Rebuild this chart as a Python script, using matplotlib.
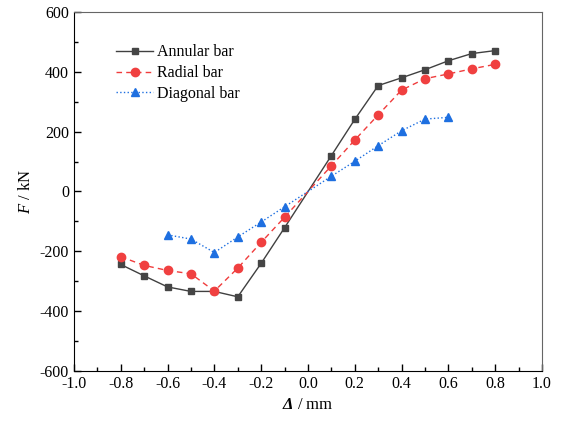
import numpy as np
import matplotlib
matplotlib.use("Agg")
import matplotlib.pyplot as plt
from matplotlib.ticker import MultipleLocator

plt.rcParams['font.family'] = ['Liberation Serif', 'DejaVu Serif']
plt.rcParams['axes.unicode_minus'] = False
plt.rcParams['mathtext.fontset'] = 'custom'
plt.rcParams['mathtext.rm'] = 'Liberation Serif'
plt.rcParams['mathtext.it'] = 'Liberation Serif:italic'
plt.rcParams['mathtext.bf'] = 'Liberation Serif:italic:bold'

# podatki (odčitani s slike)
x_annular = [-0.8, -0.7, -0.6, -0.5, -0.4, -0.3, -0.2, -0.1, 0.1, 0.2, 0.3, 0.4, 0.5, 0.6, 0.7, 0.8]
f_annular = [-244, -282, -319, -334, -334, -352, -240, -121, 120, 241, 354, 380, 407, 437, 461, 471]

x_radial = [-0.8, -0.7, -0.6, -0.5, -0.4, -0.3, -0.2, -0.1, 0.1, 0.2, 0.3, 0.4, 0.5, 0.6, 0.7, 0.8]
f_radial = [-218, -247, -264, -275, -333, -256, -170, -86, 86, 172, 256, 339, 377, 393, 410, 425]

x_diagonal = [-0.6, -0.5, -0.4, -0.3, -0.2, -0.1, 0.1, 0.2, 0.3, 0.4, 0.5, 0.6]
f_diagonal = [-145, -159, -204, -152, -102, -51, 51, 101, 153, 203, 242, 248]

fig = plt.figure(figsize=(5.69, 4.24), dpi=100)
ax = fig.add_axes([0.130, 0.125, 0.8225, 0.8467])

ax.plot(x_annular, f_annular, '-', color='#404040', lw=1.0,
        marker='s', ms=4.5, mfc='#454545', mec='#454545', label='Annular bar')
ax.plot(x_radial, f_radial, '--', color='#f03c3c', lw=1.0, dashes=(4, 3),
        marker='o', ms=6, mfc='#f04040', mec='#f04040', label='Radial bar')
ax.plot(x_diagonal, f_diagonal, ':', color='#1e6fe0', lw=1.0,
        marker='^', ms=6.3, mfc='#1e6fe0', mec='#1e6fe0', label='Diagonal bar')

ax.set_xlim(-1.0, 1.0)
ax.set_ylim(-600, 600)
ax.xaxis.set_major_locator(MultipleLocator(0.2))
ax.xaxis.set_minor_locator(MultipleLocator(0.1))
ax.yaxis.set_major_locator(MultipleLocator(200))
ax.yaxis.set_minor_locator(MultipleLocator(100))
ax.tick_params(which='both', direction='in', top=False, right=False, labelsize=11.5)
ax.tick_params(which='major', length=5, width=1)
ax.tick_params(which='minor', length=3, width=1)

for s in ['top', 'right']:
    ax.spines[s].set_color('#666666')
for s in ['left', 'bottom']:
    ax.spines[s].set_color('black')

ax.set_xlabel(r'$\mathbf{\Delta}$ / mm', fontsize=12)
ax.set_ylabel(r'$\mathit{F}$ / kN', fontsize=12)

ax.legend(loc='upper left', bbox_to_anchor=(0.06, 0.95), frameon=False,
          fontsize=11.5, handlelength=2.3, handletextpad=0.25, labelspacing=0.3)

fig.savefig('out.png', dpi=100)
